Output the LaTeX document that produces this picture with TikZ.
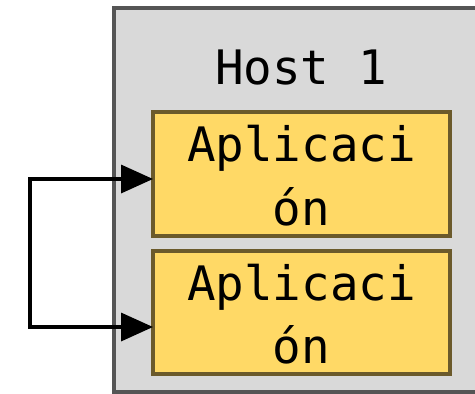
\documentclass[tikz,border=0pt]{standalone}
\usepackage{fontspec}
\setmonofont{DejaVu Sans Mono}
\usetikzlibrary{arrows.meta}
\definecolor{hostfill}{HTML}{D9D9D9}
\definecolor{hostline}{HTML}{555555}
\definecolor{appfill}{HTML}{FFD966}
\definecolor{appline}{HTML}{6B5A2B}
\tikzset{
  hostbox/.style={fill=hostfill, draw=hostline, line width=3.5pt},
  appbox/.style={fill=appfill, draw=appline, line width=3.5pt},
  monotext/.style={font=\ttfamily\fontsize{47.5}{64}\selectfont, anchor=base, inner sep=0pt, text=black},
  link/.style={line width=3.5pt, {Triangle[length=32pt,width=28pt]}-{Triangle[length=32pt,width=28pt]}},
}
\begin{document}
\begin{tikzpicture}[x=1pt, y=-1pt]
  \useasboundingbox (0,0) rectangle (475,394);
  \clip (0,0) rectangle (475,394);
  % host container
  \draw[hostbox] (114,8) rectangle (490,392);
  \node[monotext] (host) at (301,84) {Host 1};
  % application boxes
  \draw[appbox] (153,112) rectangle (450,236);
  \node[monotext] (a1l1) at (301.5,161) {Aplicaci};
  \node[monotext] (a1l2) at (301.5,225) {ón};
  \draw[appbox] (153,251) rectangle (450,374);
  \node[monotext] (a2l1) at (301.5,300) {Aplicaci};
  \node[monotext] (a2l2) at (301.5,363) {ón};
  % loop connector between the two applications
  \coordinate (in1) at (153,179);
  \coordinate (in2) at (153,327);
  \coordinate (bend) at (30,253);
  \draw[link] (in1) -| (bend) |- (in2);
\end{tikzpicture}
\end{document}
